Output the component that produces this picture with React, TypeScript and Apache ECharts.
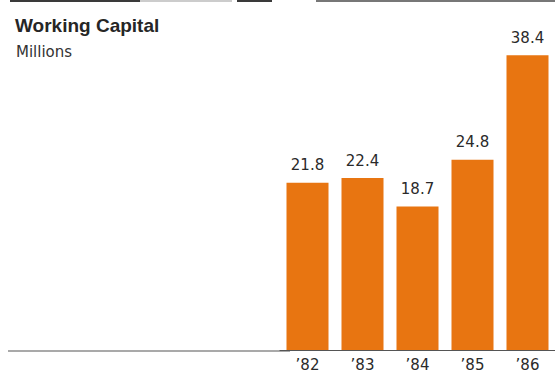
import React, { useEffect, useRef } from "react";
import * as echarts from "echarts";

const title = "Working Capital";
const subtitle = "Millions";
const years = ["’82", "’83", "’84", "’85", "’86"];
const workingCapital = [21.8, 22.4, 18.7, 24.8, 38.4];

export default function App() {
  const ref = useRef<HTMLDivElement>(null);
  useEffect(() => {
    if (!ref.current) return;
    const chart = echarts.init(ref.current, undefined, { renderer: "svg" });
    chart.setOption({
      animation: false,
      backgroundColor: "#ffffff",
      title: [
        {
          text: title,
          left: 10,
          top: 11,
          textStyle: { fontFamily: "Liberation Sans", fontSize: 19, fontWeight: "bold", color: "#262626" },
        },
        {
          text: subtitle,
          left: 11,
          top: 39,
          textStyle: { fontFamily: "DejaVu Sans", fontSize: 15, fontWeight: "normal", color: "#333333" },
        },
      ],
      graphic: [
        { type: "line", shape: { x1: 10, y1: 1, x2: 140, y2: 1 }, style: { stroke: "#3a3a3a", lineWidth: 2 } },
        { type: "line", shape: { x1: 140, y1: 1, x2: 232, y2: 1 }, style: { stroke: "#bbbbbb", lineWidth: 1.5 } },
        { type: "line", shape: { x1: 237, y1: 1, x2: 272, y2: 1 }, style: { stroke: "#3a3a3a", lineWidth: 2 } },
        { type: "line", shape: { x1: 316, y1: 1, x2: 555, y2: 1 }, style: { stroke: "#4a4a4a", lineWidth: 1.5 } },
        {
          type: "line",
          shape: { x1: 8, y1: 351, x2: 290, y2: 351 },
          style: { stroke: "#555555", lineWidth: 1.2 },
        },
      ],
      grid: { left: 280, width: 278, top: 43, bottom: 21, containLabel: false },
      xAxis: {
        type: "category",
        data: years,
        axisLine: { show: true, lineStyle: { color: "#555555", width: 1.2 } },
        axisTick: { show: false },
        axisLabel: {
          margin: 7,
          fontFamily: "DejaVu Sans",
          fontSize: 15,
          color: "#2a2a2a",
        },
      },
      yAxis: {
        type: "value",
        min: 0,
        max: 40,
        show: false,
        splitLine: { show: false },
      },
      series: [
        {
          type: "bar",
          data: workingCapital,
          barWidth: 42,
          itemStyle: { color: "#E87511" },
          label: {
            show: true,
            position: "top",
            distance: 10,
            fontFamily: "DejaVu Sans",
            fontSize: 15,
            color: "#2a2a2a",
            formatter: (p: any) => p.value.toFixed(1),
          },
        },
      ],
    });
    return () => chart.dispose();
  }, []);
  return (
    <div
      ref={ref}
      style={{ position: "fixed", left: 0, top: 0, width: 555, height: 372 }}
    />
  );
}
